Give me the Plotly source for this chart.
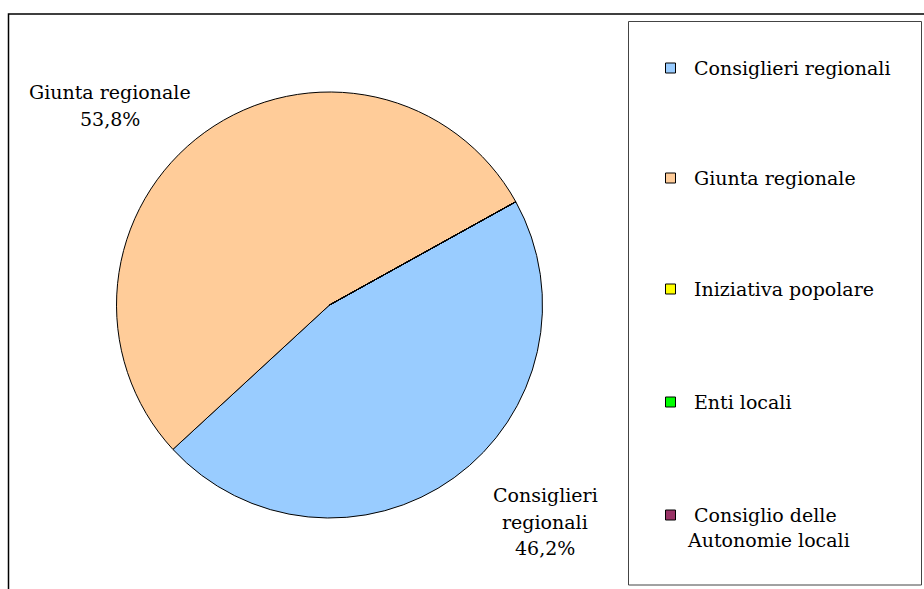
import plotly.graph_objects as go

# ---- data ----
categories = ["Consiglieri regionali", "Giunta regionale", "Iniziativa popolare",
              "Enti locali", "Consiglio delle Autonomie locali"]
values = [46.2, 53.8, 0.0, 0.0, 0.0]
colors = ["#99CCFF", "#FFCC99", "#FFFF00", "#00FF00", "#993366"]
legend_labels = ["Consiglieri regionali", "Giunta regionale", "Iniziativa popolare",
                 "Enti locali", "Consiglio delle<br>Autonomie locali"]

W, H = 924, 589
FONT = "DejaVu Serif"
FS = 19


def px(x):
    return x / W


def py(y):
    return 1 - y / H


fig = go.Figure()

cx, cy, r = 329.5, 305, 213
fig.add_trace(go.Pie(
    labels=categories,
    values=values,
    marker=dict(colors=colors, line=dict(color="#000000", width=1)),
    sort=False,
    direction="clockwise",
    rotation=61,
    textinfo="none",
    hoverinfo="label+percent",
    showlegend=False,
    domain=dict(x=[px(cx - r), px(cx + r)], y=[py(cy + r), py(cy - r)]),
))

shapes = []
annotations = []

# outer chart frame (cropped at right/bottom)
shapes.append(dict(type="rect", xref="paper", yref="paper",
                   x0=px(8.5), x1=px(940), y0=py(620), y1=py(14),
                   line=dict(color="#000000", width=1.5)))
# legend box
shapes.append(dict(type="rect", xref="paper", yref="paper",
                   x0=px(628.5), x1=px(921.5), y0=py(585), y1=py(21.5),
                   line=dict(color="#444444", width=1)))

# slice labels (outside, Excel-style)
pct = [f"{v:.1f}".replace(".", ",") + "%" for v in values]
label_specs = {
    1: (110, [92, 119], ["Giunta regionale", pct[1]]),
    0: (545, [495, 522, 548], ["Consiglieri", "regionali", pct[0]]),
}
for idx, (lx, ys, lines) in label_specs.items():
    for yy, t in zip(ys, lines):
        annotations.append(dict(xref="paper", yref="paper", x=px(lx), y=py(yy),
                                text=t, showarrow=False, xanchor="center", yanchor="middle",
                                font=dict(family=FONT, size=FS, color="#000000")))

# custom legend
leg_y = [68, 178, 289, 402, 515]
for lab, col, yy in zip(legend_labels, colors, leg_y):
    shapes.append(dict(type="rect", xref="paper", yref="paper",
                       x0=px(665.5), x1=px(675.5), y0=py(yy + 5), y1=py(yy - 5),
                       fillcolor=col, line=dict(color="#000000", width=1)))
    if "<br>" in lab:
        l1, l2 = lab.split("<br>")
        annotations.append(dict(xref="paper", yref="paper", x=px(765), y=py(yy),
                                text=l1, showarrow=False, xanchor="center", yanchor="middle",
                                font=dict(family=FONT, size=FS, color="#000000")))
        annotations.append(dict(xref="paper", yref="paper", x=px(768), y=py(yy + 25),
                                text=l2, showarrow=False, xanchor="center", yanchor="middle",
                                font=dict(family=FONT, size=FS, color="#000000")))
    else:
        annotations.append(dict(xref="paper", yref="paper", x=px(692), y=py(yy),
                                text=lab, showarrow=False, xanchor="left", yanchor="middle",
                                font=dict(family=FONT, size=FS, color="#000000")))

fig.update_layout(
    width=W, height=H,
    margin=dict(l=0, r=0, t=0, b=0),
    paper_bgcolor="#FFFFFF",
    plot_bgcolor="#FFFFFF",
    shapes=shapes,
    annotations=annotations,
    separators=",.",
    font=dict(family=FONT, size=FS, color="#000000"),
)

fig.write_html("out.html",
               config={"displayModeBar": False},
               post_script="document.body.style.margin='0';document.body.style.overflow='hidden';")
